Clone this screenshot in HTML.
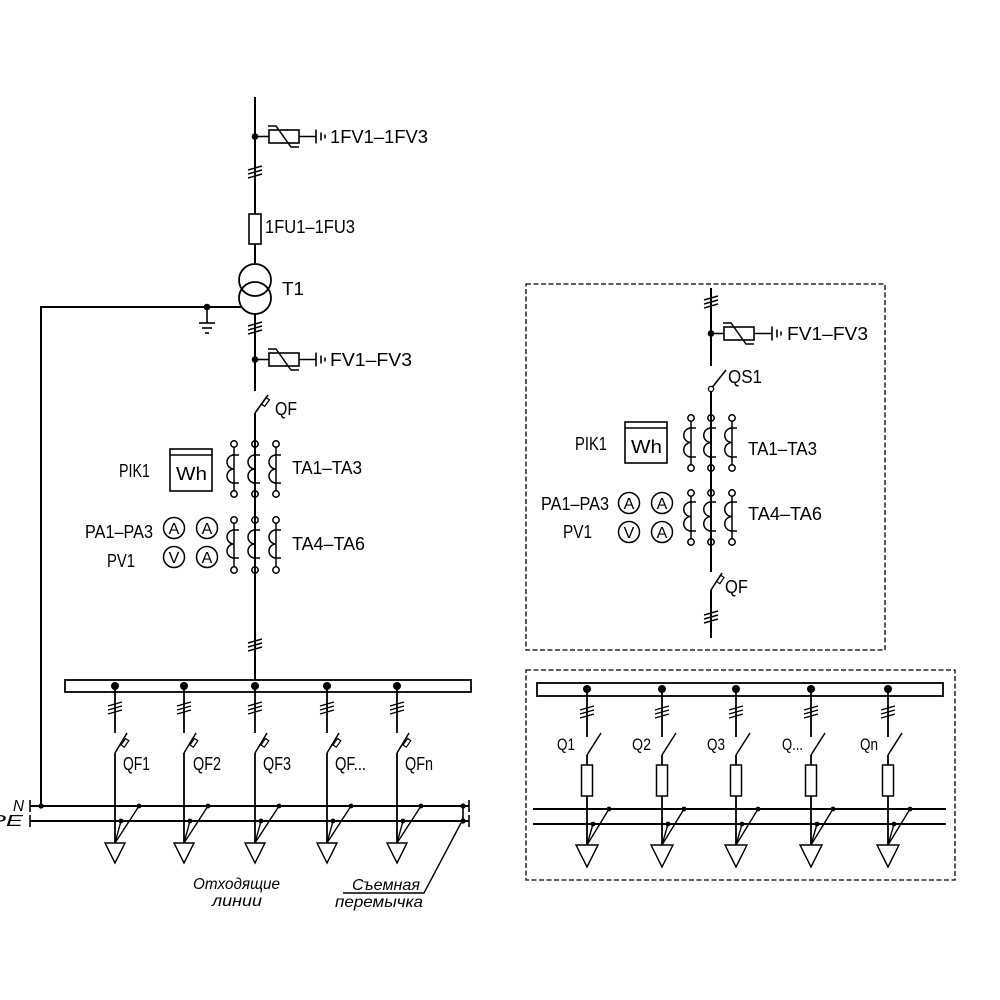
<!DOCTYPE html>
<html><head><meta charset="utf-8"><style>
html,body{margin:0;padding:0;background:#fff;}
svg{display:block;}
text{font-family:"Liberation Sans","DejaVu Sans",sans-serif;fill:#000;}
</style></head><body>
<svg width="1000" height="1000" viewBox="0 0 1000 1000" xmlns="http://www.w3.org/2000/svg">
<rect x="0" y="0" width="1000" height="1000" fill="#fff"/>
<g stroke="#000" stroke-width="2" fill="none" stroke-linecap="butt">

<!-- ===== LEFT: main vertical ===== -->
<line x1="255" y1="97" x2="255" y2="214"/>
<rect x="249" y="214" width="12" height="30" stroke-width="1.6"/>
<line x1="255" y1="244" x2="255" y2="264"/>
<circle cx="255" cy="280" r="16" stroke-width="1.8"/>
<circle cx="255" cy="298" r="16" stroke-width="1.8"/>
<line x1="255" y1="314" x2="255" y2="391"/>

<!-- ticks -->
<g stroke-width="1.5">
<path d="M248 170 L262 166 M248 174 L262 170 M248 178 L262 174"/>
<path d="M248 326 L262 322 M248 330 L262 326 M248 334 L262 330"/>
</g>

<!-- arrester 1 -->
<line x1="255" y1="136.5" x2="269" y2="136.5" stroke-width="1.6"/>
<rect x="269" y="130" width="30" height="13" stroke-width="1.6"/>
<path d="M268 126 H276 L291 147 H299" stroke-width="1.5"/>
<line x1="299" y1="136.5" x2="316" y2="136.5" stroke-width="1.6"/>
<line x1="316" y1="129.5" x2="316" y2="143.5" stroke-width="1.6"/>
<line x1="321" y1="132.5" x2="321" y2="140.5" stroke-width="1.6"/>
<line x1="325" y1="134.5" x2="325" y2="138.5" stroke-width="1.6"/>

<!-- arrester 2 -->
<line x1="255" y1="359.5" x2="269" y2="359.5" stroke-width="1.6"/>
<rect x="269" y="353" width="30" height="13" stroke-width="1.6"/>
<path d="M268 349 H276 L291 370 H299" stroke-width="1.5"/>
<line x1="299" y1="359.5" x2="316" y2="359.5" stroke-width="1.6"/>
<line x1="316" y1="352.5" x2="316" y2="366.5" stroke-width="1.6"/>
<line x1="321" y1="355.5" x2="321" y2="363.5" stroke-width="1.6"/>
<line x1="325" y1="357.5" x2="325" y2="361.5" stroke-width="1.6"/>

<!-- neutral from transformer -->
<line x1="41" y1="307" x2="241" y2="307"/>
<line x1="41" y1="306" x2="41" y2="806"/>
<line x1="207" y1="307" x2="207" y2="323" stroke-width="1.6"/>
<line x1="199" y1="323" x2="215" y2="323" stroke-width="1.6"/>
<line x1="202" y1="328" x2="212" y2="328" stroke-width="1.6"/>
<line x1="205" y1="333" x2="209" y2="333" stroke-width="1.6"/>

<!-- QF main -->
<path d="M255 413 L268 395" stroke-width="1.6"/>
<polygon points="261.4,404.1 266.1,397.6 269.4,399.9 264.7,406.4" stroke-width="1.3"/>
<line x1="255" y1="413" x2="255" y2="680"/>

<!-- CT group 1 (left) -->
<g stroke-width="1.5">
<line x1="234" y1="447" x2="234" y2="491"/>
<line x1="276" y1="447" x2="276" y2="491"/>
<path d="M232 455 H239 M232 483 H239 M234 455 A7 7 0 0 0 234 469 A7 7 0 0 0 234 483"/>
<path d="M253 455 H260 M253 483 H260 M255 455 A7 7 0 0 0 255 469 A7 7 0 0 0 255 483"/>
<path d="M274 455 H281 M274 483 H281 M276 455 A7 7 0 0 0 276 469 A7 7 0 0 0 276 483"/>
<circle cx="234" cy="444" r="3.2" fill="#fff"/><circle cx="255" cy="444" r="3.2"/><circle cx="276" cy="444" r="3.2" fill="#fff"/>
<circle cx="234" cy="494" r="3.2" fill="#fff"/><circle cx="255" cy="494" r="3.2"/><circle cx="276" cy="494" r="3.2" fill="#fff"/>
</g>
<!-- CT group 2 (left) -->
<g stroke-width="1.5">
<line x1="234" y1="523" x2="234" y2="567"/>
<line x1="276" y1="523" x2="276" y2="567"/>
<path d="M232 530 H239 M232 558 H239 M234 530 A7 7 0 0 0 234 544 A7 7 0 0 0 234 558"/>
<path d="M253 530 H260 M253 558 H260 M255 530 A7 7 0 0 0 255 544 A7 7 0 0 0 255 558"/>
<path d="M274 530 H281 M274 558 H281 M276 530 A7 7 0 0 0 276 544 A7 7 0 0 0 276 558"/>
<circle cx="234" cy="520" r="3.2" fill="#fff"/><circle cx="255" cy="520" r="3.2"/><circle cx="276" cy="520" r="3.2" fill="#fff"/>
<circle cx="234" cy="570" r="3.2" fill="#fff"/><circle cx="255" cy="570" r="3.2"/><circle cx="276" cy="570" r="3.2" fill="#fff"/>
</g>

<!-- Wh left -->
<rect x="170" y="449" width="42" height="42" stroke-width="1.6"/>
<line x1="170" y1="455" x2="212" y2="455" stroke-width="1.4"/>
<!-- meters left -->
<g stroke-width="1.5">
<circle cx="174" cy="528" r="10.5"/><circle cx="207" cy="528" r="10.5"/>
<circle cx="174" cy="557" r="10.5"/><circle cx="207" cy="557" r="10.5"/>
</g>

<path d="M248 643 L262 639 M248 647 L262 643 M248 651 L262 647" stroke-width="1.5"/>

<!-- busbar left -->
<rect x="65" y="680" width="406" height="12" stroke-width="1.8"/>

<!-- N / PE lines left -->
<line x1="30" y1="806" x2="469" y2="806"/>
<line x1="30" y1="821" x2="469" y2="821"/>
<line x1="30" y1="800" x2="30" y2="812" stroke-width="1.6"/>
<line x1="30" y1="815" x2="30" y2="827" stroke-width="1.6"/>
<line x1="469" y1="800" x2="469" y2="812" stroke-width="1.6"/>
<line x1="469" y1="815" x2="469" y2="827" stroke-width="1.6"/>
<line x1="463" y1="806" x2="463" y2="821" stroke-width="1.6"/>
<path d="M461 823 L424 893 H343" stroke-width="1.4"/>

<g stroke-width="1.8">
<!-- x=115 -->
<line x1="115" y1="686" x2="115" y2="733"/>
<path d="M108 706 L122 702 M108 710 L122 706 M108 714 L122 710" stroke-width="1.4"/>
<path d="M115 753 L127 733" stroke-width="1.5"/>
<polygon points="121,745 125.5,738.5 128.8,740.7 124.3,747.2" stroke-width="1.2"/>
<line x1="115" y1="753" x2="115" y2="843"/>
<path d="M139 806 L115 843 M121 821 L115 843" stroke-width="1.4"/>
<polygon points="105,843 125,843 115,863" stroke-width="1.4"/>
<!-- x=184 -->
<line x1="184" y1="686" x2="184" y2="733"/>
<path d="M177 706 L191 702 M177 710 L191 706 M177 714 L191 710" stroke-width="1.4"/>
<path d="M184 753 L196 733" stroke-width="1.5"/>
<polygon points="190,745 194.5,738.5 197.8,740.7 193.3,747.2" stroke-width="1.2"/>
<line x1="184" y1="753" x2="184" y2="843"/>
<path d="M208 806 L184 843 M190 821 L184 843" stroke-width="1.4"/>
<polygon points="174,843 194,843 184,863" stroke-width="1.4"/>
<!-- x=255 -->
<line x1="255" y1="686" x2="255" y2="733"/>
<path d="M248 706 L262 702 M248 710 L262 706 M248 714 L262 710" stroke-width="1.4"/>
<path d="M255 753 L267 733" stroke-width="1.5"/>
<polygon points="261,745 265.5,738.5 268.8,740.7 264.3,747.2" stroke-width="1.2"/>
<line x1="255" y1="753" x2="255" y2="843"/>
<path d="M279 806 L255 843 M261 821 L255 843" stroke-width="1.4"/>
<polygon points="245,843 265,843 255,863" stroke-width="1.4"/>
<!-- x=327 -->
<line x1="327" y1="686" x2="327" y2="733"/>
<path d="M320 706 L334 702 M320 710 L334 706 M320 714 L334 710" stroke-width="1.4"/>
<path d="M327 753 L339 733" stroke-width="1.5"/>
<polygon points="333,745 337.5,738.5 340.8,740.7 336.3,747.2" stroke-width="1.2"/>
<line x1="327" y1="753" x2="327" y2="843"/>
<path d="M351 806 L327 843 M333 821 L327 843" stroke-width="1.4"/>
<polygon points="317,843 337,843 327,863" stroke-width="1.4"/>
<!-- x=397 -->
<line x1="397" y1="686" x2="397" y2="733"/>
<path d="M390 706 L404 702 M390 710 L404 706 M390 714 L404 710" stroke-width="1.4"/>
<path d="M397 753 L409 733" stroke-width="1.5"/>
<polygon points="403,745 407.5,738.5 410.8,740.7 406.3,747.2" stroke-width="1.2"/>
<line x1="397" y1="753" x2="397" y2="843"/>
<path d="M421 806 L397 843 M403 821 L397 843" stroke-width="1.4"/>
<polygon points="387,843 407,843 397,863" stroke-width="1.4"/>
</g>

<!-- ===== RIGHT TOP PANEL ===== -->
<rect x="526" y="284" width="359" height="366" stroke-width="1.3" stroke-dasharray="5 2.5"/>
<line x1="711" y1="288" x2="711" y2="366"/>
<path d="M704 300 L718 296 M704 304 L718 300 M704 308 L718 304" stroke-width="1.5"/>
<line x1="711" y1="333.5" x2="724" y2="333.5" stroke-width="1.6"/>
<rect x="724" y="327" width="30" height="13" stroke-width="1.6"/>
<path d="M723 323 H731 L746 344 H754" stroke-width="1.5"/>
<line x1="754" y1="333.5" x2="772" y2="333.5" stroke-width="1.6"/>
<line x1="772" y1="326.5" x2="772" y2="340.5" stroke-width="1.6"/>
<line x1="777" y1="329.5" x2="777" y2="337.5" stroke-width="1.6"/>
<line x1="781" y1="331.5" x2="781" y2="335.5" stroke-width="1.6"/>
<!-- QS1 -->
<path d="M712.5 387 L726 370" stroke-width="1.6"/>
<circle cx="711" cy="389" r="2.6" stroke-width="1.3" fill="#fff"/>
<line x1="711" y1="391.5" x2="711" y2="572"/>
<!-- CT right group 1 -->
<g stroke-width="1.5">
<line x1="691" y1="421" x2="691" y2="465"/>
<line x1="732" y1="421" x2="732" y2="465"/>
<path d="M689 428 H696 M689 457 H696 M691 428 A7.25 7.25 0 0 0 691 442.5 A7.25 7.25 0 0 0 691 457"/>
<path d="M709 428 H716 M709 457 H716 M711 428 A7.25 7.25 0 0 0 711 442.5 A7.25 7.25 0 0 0 711 457"/>
<path d="M730 428 H737 M730 457 H737 M732 428 A7.25 7.25 0 0 0 732 442.5 A7.25 7.25 0 0 0 732 457"/>
<circle cx="691" cy="418" r="3.2" fill="#fff"/><circle cx="711" cy="418" r="3.2"/><circle cx="732" cy="418" r="3.2" fill="#fff"/>
<circle cx="691" cy="468" r="3.2" fill="#fff"/><circle cx="711" cy="468" r="3.2"/><circle cx="732" cy="468" r="3.2" fill="#fff"/>
</g>
<!-- CT right group 2 -->
<g stroke-width="1.5">
<line x1="691" y1="496" x2="691" y2="539"/>
<line x1="732" y1="496" x2="732" y2="539"/>
<path d="M689 502 H696 M689 531 H696 M691 502 A7.25 7.25 0 0 0 691 516.5 A7.25 7.25 0 0 0 691 531"/>
<path d="M709 502 H716 M709 531 H716 M711 502 A7.25 7.25 0 0 0 711 516.5 A7.25 7.25 0 0 0 711 531"/>
<path d="M730 502 H737 M730 531 H737 M732 502 A7.25 7.25 0 0 0 732 516.5 A7.25 7.25 0 0 0 732 531"/>
<circle cx="691" cy="493" r="3.2" fill="#fff"/><circle cx="711" cy="493" r="3.2"/><circle cx="732" cy="493" r="3.2" fill="#fff"/>
<circle cx="691" cy="542" r="3.2" fill="#fff"/><circle cx="711" cy="542" r="3.2"/><circle cx="732" cy="542" r="3.2" fill="#fff"/>
</g>
<rect x="625" y="422" width="42" height="41" stroke-width="1.6"/>
<line x1="625" y1="428" x2="667" y2="428" stroke-width="1.4"/>
<g stroke-width="1.5">
<circle cx="629" cy="503" r="10.5"/><circle cx="662" cy="503" r="10.5"/>
<circle cx="629" cy="532" r="10.5"/><circle cx="662" cy="532" r="10.5"/>
</g>
<!-- QF right -->
<path d="M711 590 L722 573" stroke-width="1.6"/>
<polygon points="716.5,581.5 720.6,575.2 724,577.4 719.9,583.7" stroke-width="1.2"/>
<line x1="711" y1="590" x2="711" y2="638"/>
<path d="M704 615 L718 611 M704 619 L718 615 M704 623 L718 619" stroke-width="1.5"/>

<!-- ===== RIGHT BOTTOM PANEL ===== -->
<rect x="526" y="670" width="429" height="210" stroke-width="1.3" stroke-dasharray="5 2.5"/>
<rect x="537" y="683" width="406" height="13" stroke-width="1.8"/>
<line x1="533" y1="809" x2="946" y2="809"/>
<line x1="533" y1="824" x2="946" y2="824"/>
<g stroke-width="1.8">
<!-- 587 -->
<line x1="587" y1="689" x2="587" y2="737"/>
<path d="M580 710 L594 706 M580 714 L594 710 M580 718 L594 714" stroke-width="1.4"/>
<path d="M587 755 L601 733" stroke-width="1.5"/>
<line x1="587" y1="755" x2="587" y2="845"/>
<rect x="581.5" y="765" width="11" height="31" fill="#fff" stroke-width="1.5"/>
<path d="M609 809 L587 845 M593 824 L587 845" stroke-width="1.4"/>
<polygon points="576,845 598,845 587,867" stroke-width="1.4"/>
<!-- 662 -->
<line x1="662" y1="689" x2="662" y2="737"/>
<path d="M655 710 L669 706 M655 714 L669 710 M655 718 L669 714" stroke-width="1.4"/>
<path d="M662 755 L676 733" stroke-width="1.5"/>
<line x1="662" y1="755" x2="662" y2="845"/>
<rect x="656.5" y="765" width="11" height="31" fill="#fff" stroke-width="1.5"/>
<path d="M684 809 L662 845 M668 824 L662 845" stroke-width="1.4"/>
<polygon points="651,845 673,845 662,867" stroke-width="1.4"/>
<!-- 736 -->
<line x1="736" y1="689" x2="736" y2="737"/>
<path d="M729 710 L743 706 M729 714 L743 710 M729 718 L743 714" stroke-width="1.4"/>
<path d="M736 755 L750 733" stroke-width="1.5"/>
<line x1="736" y1="755" x2="736" y2="845"/>
<rect x="730.5" y="765" width="11" height="31" fill="#fff" stroke-width="1.5"/>
<path d="M758 809 L736 845 M742 824 L736 845" stroke-width="1.4"/>
<polygon points="725,845 747,845 736,867" stroke-width="1.4"/>
<!-- 811 -->
<line x1="811" y1="689" x2="811" y2="737"/>
<path d="M804 710 L818 706 M804 714 L818 710 M804 718 L818 714" stroke-width="1.4"/>
<path d="M811 755 L825 733" stroke-width="1.5"/>
<line x1="811" y1="755" x2="811" y2="845"/>
<rect x="805.5" y="765" width="11" height="31" fill="#fff" stroke-width="1.5"/>
<path d="M833 809 L811 845 M817 824 L811 845" stroke-width="1.4"/>
<polygon points="800,845 822,845 811,867" stroke-width="1.4"/>
<!-- 888 -->
<line x1="888" y1="689" x2="888" y2="737"/>
<path d="M881 710 L895 706 M881 714 L895 710 M881 718 L895 714" stroke-width="1.4"/>
<path d="M888 755 L902 733" stroke-width="1.5"/>
<line x1="888" y1="755" x2="888" y2="845"/>
<rect x="882.5" y="765" width="11" height="31" fill="#fff" stroke-width="1.5"/>
<path d="M910 809 L888 845 M894 824 L888 845" stroke-width="1.4"/>
<polygon points="877,845 899,845 888,867" stroke-width="1.4"/>
</g>
</g>

<!-- dots -->
<g fill="#000">
<circle cx="255" cy="136.5" r="3.3"/>
<circle cx="255" cy="359.5" r="3.3"/>
<circle cx="207" cy="307" r="3.3"/>
<circle cx="41" cy="806" r="2.6"/>
<circle cx="115" cy="686" r="4"/><circle cx="184" cy="686" r="4"/><circle cx="255" cy="686" r="4"/><circle cx="327" cy="686" r="4"/><circle cx="397" cy="686" r="4"/>
<circle cx="139" cy="806" r="2.4"/><circle cx="208" cy="806" r="2.4"/><circle cx="279" cy="806" r="2.4"/><circle cx="351" cy="806" r="2.4"/><circle cx="421" cy="806" r="2.4"/>
<circle cx="121" cy="821" r="2.4"/><circle cx="190" cy="821" r="2.4"/><circle cx="261" cy="821" r="2.4"/><circle cx="333" cy="821" r="2.4"/><circle cx="403" cy="821" r="2.4"/>
<circle cx="463" cy="806" r="2.6"/><circle cx="463" cy="821" r="2.6"/>
<circle cx="711" cy="333.5" r="3.3"/>
<circle cx="587" cy="689" r="4"/><circle cx="662" cy="689" r="4"/><circle cx="736" cy="689" r="4"/><circle cx="811" cy="689" r="4"/><circle cx="888" cy="689" r="4"/>
<circle cx="609" cy="809" r="2.4"/><circle cx="684" cy="809" r="2.4"/><circle cx="758" cy="809" r="2.4"/><circle cx="833" cy="809" r="2.4"/><circle cx="910" cy="809" r="2.4"/>
<circle cx="593" cy="824" r="2.4"/><circle cx="668" cy="824" r="2.4"/><circle cx="742" cy="824" r="2.4"/><circle cx="817" cy="824" r="2.4"/><circle cx="894" cy="824" r="2.4"/>
</g>

<!-- ===== TEXT ===== -->
<g font-size="18">
<text x="330" y="143" textLength="98" lengthAdjust="spacingAndGlyphs">1FV1–1FV3</text>
<text x="265" y="233" textLength="90" lengthAdjust="spacingAndGlyphs">1FU1–1FU3</text>
<text x="282" y="295" textLength="22" lengthAdjust="spacingAndGlyphs">T1</text>
<text x="330" y="366" textLength="82" lengthAdjust="spacingAndGlyphs">FV1–FV3</text>
<text x="275" y="415" textLength="22" lengthAdjust="spacingAndGlyphs">QF</text>
<text x="119" y="477" textLength="31" lengthAdjust="spacingAndGlyphs">PIK1</text>
<text x="176" y="480" textLength="31" lengthAdjust="spacingAndGlyphs">Wh</text>
<text x="292" y="474" textLength="70" lengthAdjust="spacingAndGlyphs">TA1–TA3</text>
<text x="85" y="538" textLength="68" lengthAdjust="spacingAndGlyphs">PA1–PA3</text>
<text x="107" y="567" textLength="28" lengthAdjust="spacingAndGlyphs">PV1</text>
<text x="292" y="550" textLength="73" lengthAdjust="spacingAndGlyphs">TA4–TA6</text>

<text x="787" y="340" textLength="81" lengthAdjust="spacingAndGlyphs">FV1–FV3</text>
<text x="728" y="383" textLength="34" lengthAdjust="spacingAndGlyphs">QS1</text>
<text x="575" y="450" textLength="32" lengthAdjust="spacingAndGlyphs">PIK1</text>
<text x="631" y="453" textLength="31" lengthAdjust="spacingAndGlyphs">Wh</text>
<text x="748" y="455" textLength="69" lengthAdjust="spacingAndGlyphs">TA1–TA3</text>
<text x="541" y="510" textLength="68" lengthAdjust="spacingAndGlyphs">PA1–PA3</text>
<text x="563" y="538" textLength="29" lengthAdjust="spacingAndGlyphs">PV1</text>
<text x="748" y="520" textLength="74" lengthAdjust="spacingAndGlyphs">TA4–TA6</text>
<text x="725" y="593" textLength="23" lengthAdjust="spacingAndGlyphs">QF</text>
</g>

<g font-size="16" text-anchor="middle">
<text x="174" y="534">A</text><text x="207" y="534">A</text>
<text x="174" y="563">V</text><text x="207" y="563">A</text>
<text x="629" y="509">A</text><text x="662" y="509">A</text>
<text x="629" y="538">V</text><text x="662" y="538">A</text>
</g>

<g font-size="18">
<text x="123" y="770" textLength="27" lengthAdjust="spacingAndGlyphs">QF1</text>
<text x="193" y="770" textLength="28" lengthAdjust="spacingAndGlyphs">QF2</text>
<text x="263" y="770" textLength="28" lengthAdjust="spacingAndGlyphs">QF3</text>
<text x="335" y="770" textLength="31" lengthAdjust="spacingAndGlyphs">QF...</text>
<text x="405" y="770" textLength="28" lengthAdjust="spacingAndGlyphs">QFn</text>
</g>
<g font-size="17">
<text x="557" y="750" textLength="18" lengthAdjust="spacingAndGlyphs">Q1</text>
<text x="632" y="750" textLength="19" lengthAdjust="spacingAndGlyphs">Q2</text>
<text x="707" y="750" textLength="18" lengthAdjust="spacingAndGlyphs">Q3</text>
<text x="782" y="750" textLength="21" lengthAdjust="spacingAndGlyphs">Q...</text>
<text x="860" y="750" textLength="18" lengthAdjust="spacingAndGlyphs">Qn</text>
</g>

<g font-size="16" font-style="italic">
<text x="13" y="811" textLength="11" lengthAdjust="spacingAndGlyphs">N</text>
<text x="-11" y="826" textLength="34" lengthAdjust="spacingAndGlyphs">PE</text>
<text x="193" y="889" textLength="87" lengthAdjust="spacingAndGlyphs">Отходящие</text>
<text x="212" y="906" textLength="50" lengthAdjust="spacingAndGlyphs">линии</text>
<text x="352" y="890" textLength="68" lengthAdjust="spacingAndGlyphs">Съемная</text>
<text x="335" y="907" textLength="88" lengthAdjust="spacingAndGlyphs">перемычка</text>
</g>
</svg>
</body></html>
